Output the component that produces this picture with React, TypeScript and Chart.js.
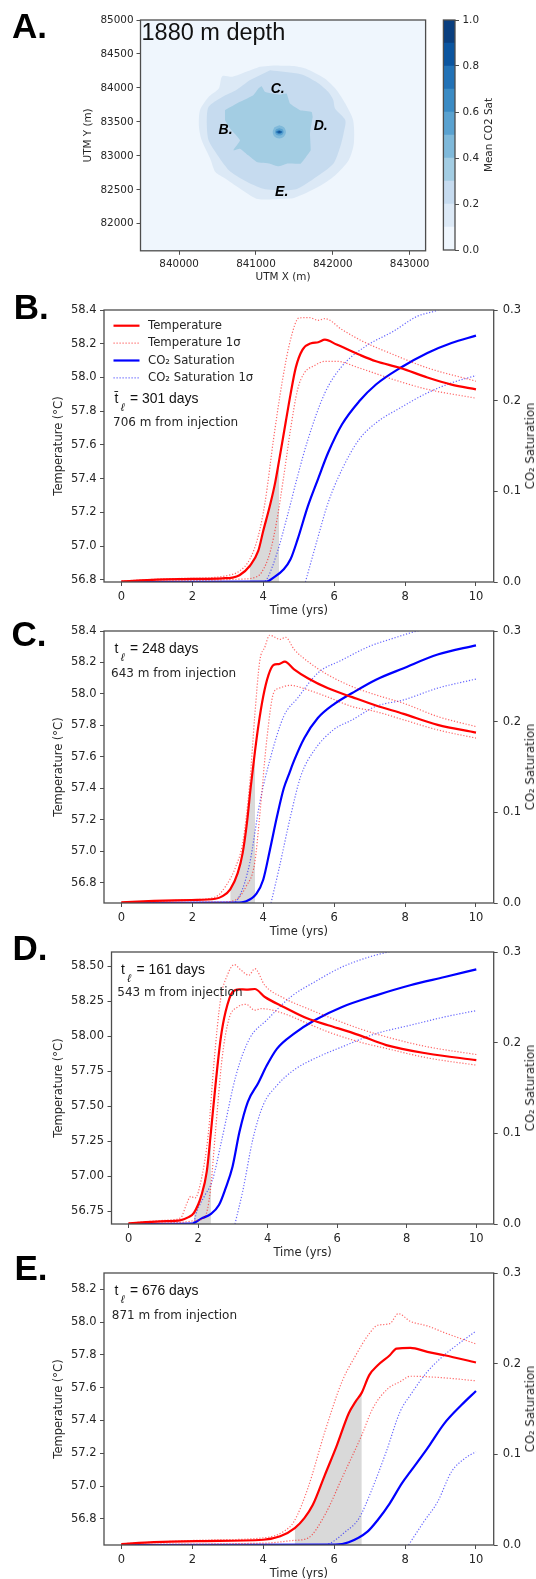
import React, { useEffect, useRef } from 'react';
import Chart from 'chart.js/auto';

type Pair = [number, number];

const FONT = '"DejaVu Sans", sans-serif';
const INK = '#262626';
const SPINE = '#4d4d4d';

// map panel (A)
const mapXTicks = [840000, 841000, 842000, 843000];
const mapYTicks = [82000, 82500, 83000, 83500, 84000, 84500, 85000];
const levelTicks = [0, 0.2, 0.4, 0.6, 0.8, 1];
const levelColors = ['#eff6fd', '#dce9f6', '#c6dbef', '#a3cde3', '#7fb9da', '#5aa2d0', '#3b8bc4', '#2272b6', '#0b559f', '#0a3f7f'];
const levelWidth = [0.1, 0.1, 0.1, 0.1, 0.1, 0.1, 0.1, 0.1, 0.1, 0.1];

const contour01: Pair[] = [
  [841228, 84331], [841495, 84321], [841673, 84272], [841896, 84139], [842051, 83967], [842163, 83770],
  [842265, 83524], [842274, 83180], [842207, 82934], [842029, 82712], [841807, 82540], [841495, 82378],
  [841362, 82368], [841028, 82363], [840828, 82491], [840605, 82663], [840472, 82761], [840405, 82958],
  [840294, 83229], [840258, 83426], [840271, 83672], [840383, 83868], [840516, 83991], [840561, 84173],
  [840694, 84164], [840872, 84237], [841050, 84311],
];
const contour02: Pair[] = [
  [841184, 84262], [841584, 84203], [841784, 84090], [841940, 83942], [842007, 83819], [842029, 83696],
  [842163, 83524], [842140, 83327], [842096, 83130], [842007, 82884], [841784, 82688], [841540, 82515],
  [841362, 82491], [841095, 82515], [840850, 82638], [840650, 82786], [840516, 82983], [840383, 83229],
  [840360, 83475], [840383, 83721], [840561, 83868], [840739, 83967], [840917, 84114],
];
const contour03: Pair[] = [
  [840597, 83672], [840792, 83795], [840966, 83893], [841031, 83992], [841074, 84026], [841117, 83943],
  [841204, 83918], [841313, 83903], [841399, 83918], [841443, 83770], [841573, 83672], [841725, 83647],
  [841738, 83574], [841703, 83328], [841712, 83082], [841651, 82983], [841582, 82885], [841399, 82885],
  [841291, 82845], [841183, 82885], [841009, 82909], [840900, 83008], [840792, 83106], [840705, 83082],
  [840792, 83229], [840662, 83401], [840597, 83524],
];
const contour04: Pair[] = [
  [841304, 83450], [841365, 83420], [841390, 83352], [841365, 83285], [841304, 83255], [841240, 83285], [841218, 83352], [841240, 83420],
];
const contour05: Pair[] = [
  [841304, 83405], [841345, 83390], [841360, 83352], [841345, 83315], [841304, 83300], [841262, 83315], [841248, 83352], [841262, 83390],
];
const contour07: Pair[] = [[841304, 83378], [841335, 83365], [841345, 83352], [841335, 83338], [841304, 83326], [841272, 83338], [841262, 83352], [841272, 83365]];
const contour09: Pair[] = [[841304, 83362], [841325, 83352], [841304, 83342], [841283, 83352]];

const wellNames = ['B.', 'C.', 'D.', 'E.'];
const wellX = [840605, 841282, 841842, 841335];
const wellY = [83376, 83986, 83440, 82471];

// time series panels
const timeTicks = [0, 2, 4, 6, 8, 10];
const satTicks = [0, 0.1, 0.2, 0.3];

const bTempTicks = [56.8, 57, 57.2, 57.4, 57.6, 57.8, 58, 58.2, 58.4];
const bTemp: Pair[] = [[0, 56.792], [1, 56.802], [2, 56.806], [2.85, 56.81], [3.13, 56.814], [3.33, 56.828], [3.62, 56.883], [3.86, 56.972], [4, 57.09], [4.2, 57.25], [4.34, 57.38], [4.45, 57.51], [4.63, 57.73], [4.77, 57.9], [4.92, 58.06], [5.11, 58.165], [5.35, 58.203], [5.55, 58.209], [5.74, 58.224], [6.07, 58.195], [6.7, 58.136], [7.18, 58.096], [7.86, 58.057], [8.63, 58], [9.31, 57.958], [10, 57.93]];
const bTempHi: Pair[] = [[0, 56.794], [1.4, 56.808], [2.36, 56.812], [2.94, 56.824], [3.33, 56.853], [3.62, 56.922], [3.86, 57.06], [4.05, 57.258], [4.29, 57.633], [4.53, 57.968], [4.77, 58.224], [5.01, 58.353], [5.3, 58.355], [5.55, 58.339], [5.74, 58.349], [6.22, 58.284], [6.8, 58.215], [7.67, 58.136], [8.63, 58.057], [10, 57.978]];
const bTempLo: Pair[] = [[0, 56.79], [2.36, 56.798], [3.33, 56.805], [3.71, 56.812], [3.95, 56.844], [4.19, 56.962], [4.39, 57.159], [4.58, 57.416], [4.77, 57.692], [4.97, 57.929], [5.16, 58.027], [5.45, 58.071], [5.74, 58.096], [6.07, 58.096], [6.7, 58.057], [7.67, 57.988], [8.63, 57.93], [10, 57.877]];
const bSat: Pair[] = [[0, 0], [4.1, 0.0004], [4.29, 0.0048], [4.58, 0.014], [4.77, 0.025], [4.97, 0.047], [5.26, 0.0837], [5.54, 0.113], [5.83, 0.1425], [6.22, 0.1737], [6.7, 0.199], [7.18, 0.2178], [7.86, 0.236], [8.63, 0.2526], [9.31, 0.2636], [10, 0.2717]];
const bSatHi: Pair[] = [[0, 0], [4, 0], [4.1, 0.003], [4.39, 0.032], [4.68, 0.0727], [4.97, 0.1168], [5.26, 0.157], [5.74, 0.2086], [6.22, 0.238], [6.89, 0.26], [7.67, 0.2765], [8.34, 0.293], [8.92, 0.3], [9.1, 0.304]];
const bSatLo: Pair[] = [[5.19, 0], [5.5, 0.0433], [5.83, 0.0874], [6.22, 0.124], [6.7, 0.157], [7.18, 0.1755], [7.86, 0.192], [8.63, 0.2086], [9.31, 0.2196], [10, 0.2277]];

const cTempTicks = [56.8, 57, 57.2, 57.4, 57.6, 57.8, 58, 58.2, 58.4];
const cTemp: Pair[] = [[0, 56.677], [0.92, 56.686], [1.98, 56.692], [2.65, 56.7], [2.84, 56.715], [3.07, 56.76], [3.28, 56.863], [3.42, 56.99], [3.54, 57.18], [3.65, 57.413], [3.77, 57.64], [3.86, 57.793], [4, 57.984], [4.15, 58.121], [4.29, 58.184], [4.44, 58.19], [4.61, 58.206], [4.87, 58.157], [5.26, 58.1], [5.83, 58.036], [6.51, 57.98], [7.18, 57.927], [7.96, 57.874], [8.92, 57.804], [10, 57.755]];
const cTempHi: Pair[] = [[0, 56.677], [1.98, 56.694], [2.65, 56.711], [2.94, 56.779], [3.23, 56.906], [3.42, 57.054], [3.62, 57.434], [3.76, 57.857], [3.9, 58.206], [4.05, 58.3], [4.18, 58.373], [4.48, 58.347], [4.63, 58.36], [4.87, 58.284], [5.26, 58.206], [5.83, 58.121], [6.51, 58.047], [7.18, 57.994], [7.96, 57.941], [8.92, 57.857], [10, 57.793]];
const cTempLo: Pair[] = [[0, 56.677], [2.84, 56.679], [3.23, 56.694], [3.52, 56.779], [3.76, 56.927], [3.9, 57.223], [4.1, 57.709], [4.29, 58.005], [4.44, 58.036], [4.77, 58.055], [5.26, 58.026], [5.83, 57.98], [6.51, 57.92], [7.18, 57.888], [7.96, 57.836], [8.92, 57.772], [10, 57.72]];
const cSat: Pair[] = [[0, 0], [3.23, 0.0004], [3.52, 0.002], [3.81, 0.0103], [4, 0.0257], [4.19, 0.0588], [4.39, 0.0956], [4.58, 0.1265], [4.73, 0.1425], [4.87, 0.157], [5.16, 0.182], [5.54, 0.204], [5.98, 0.2188], [6.51, 0.2316], [7.18, 0.2463], [7.96, 0.259], [8.92, 0.274], [10, 0.2842]];
const cSatHi: Pair[] = [[0, 0], [3.13, 0], [3.33, 0.0074], [3.62, 0.044], [3.9, 0.11], [4.19, 0.158], [4.58, 0.206], [4.97, 0.226], [5.54, 0.2537], [6.22, 0.268], [6.99, 0.283], [7.67, 0.292], [8.34, 0.3], [8.73, 0.303]];
const cSatLo: Pair[] = [[4.22, 0], [4.44, 0.0368], [4.77, 0.0956], [5.06, 0.14], [5.45, 0.169], [5.98, 0.191], [6.51, 0.202], [7.18, 0.217], [7.96, 0.224], [8.92, 0.237], [10, 0.247]];

const dTempTicks = [56.75, 57, 57.25, 57.5, 57.75, 58, 58.25, 58.5];
const dTemp: Pair[] = [[0, 56.665], [0.92, 56.679], [1.51, 56.688], [1.71, 56.707], [1.88, 56.74], [2.1, 56.868], [2.25, 57.035], [2.37, 57.319], [2.5, 57.651], [2.65, 57.983], [2.79, 58.173], [2.99, 58.315], [3.19, 58.334], [3.38, 58.332], [3.63, 58.336], [3.92, 58.279], [4.46, 58.208], [5.15, 58.125], [5.74, 58.078], [6.63, 58.007], [7.41, 57.936], [8.59, 57.876], [10, 57.829]];
const dTempHi: Pair[] = [[0, 56.667], [1.22, 56.69], [1.51, 56.707], [1.66, 56.797], [1.79, 56.857], [1.91, 56.845], [2.1, 56.987], [2.3, 57.319], [2.45, 57.793], [2.65, 58.268], [2.84, 58.434], [3.04, 58.51], [3.24, 58.469], [3.46, 58.434], [3.63, 58.481], [3.92, 58.362], [4.46, 58.272], [5.15, 58.196], [5.74, 58.137], [6.63, 58.054], [7.41, 57.995], [8.59, 57.924], [10, 57.869]];
const dTempLo: Pair[] = [[0, 56.662], [1.51, 56.672], [1.91, 56.684], [2.2, 56.714], [2.35, 56.892], [2.5, 57.319], [2.69, 57.841], [2.89, 58.125], [3.14, 58.208], [3.38, 58.227], [3.63, 58.185], [3.82, 58.196], [4.46, 58.161], [5.15, 58.09], [5.74, 58.03], [6.63, 57.959], [7.41, 57.912], [8.59, 57.845], [10, 57.793]];
const dSat: Pair[] = [[0, 0], [1.81, 0.0004], [2.1, 0.0062], [2.35, 0.0106], [2.6, 0.0209], [2.79, 0.0393], [2.99, 0.0632], [3.19, 0.1017], [3.43, 0.1348], [3.73, 0.1555], [3.97, 0.1745], [4.27, 0.1935], [4.76, 0.21], [5.35, 0.2247], [6.14, 0.2394], [7.12, 0.2522], [8.1, 0.2633], [9.09, 0.2724], [10, 0.2809]];
const dSatHi: Pair[] = [[0, 0], [1.86, 0.0007], [1.96, 0.0136], [2.2, 0.032], [2.4, 0.0466], [2.69, 0.0944], [3.09, 0.164], [3.48, 0.2045], [3.97, 0.2247], [4.66, 0.2504], [5.35, 0.267], [6.14, 0.2835], [6.92, 0.2945], [7.46, 0.3], [7.9, 0.304]];
const dSatLo: Pair[] = [[3.06, 0], [3.28, 0.0356], [3.58, 0.0944], [3.87, 0.131], [4.27, 0.153], [4.76, 0.17], [5.35, 0.1825], [6.14, 0.1954], [7.12, 0.21], [8.1, 0.2192], [9.09, 0.2284], [10, 0.2354]];

const eTempTicks = [56.8, 57, 57.2, 57.4, 57.6, 57.8, 58, 58.2];
const eTemp: Pair[] = [[0, 56.646], [0.92, 56.658], [2.36, 56.664], [4, 56.672], [4.48, 56.693], [4.89, 56.743], [5.16, 56.804], [5.4, 56.885], [5.74, 57.068], [6.08, 57.25], [6.41, 57.443], [6.6, 57.514], [6.78, 57.57], [6.99, 57.677], [7.23, 57.737], [7.57, 57.798], [7.76, 57.839], [8.15, 57.843], [8.63, 57.819], [9.11, 57.798], [10, 57.754]];
const eTempHi: Pair[] = [[0, 56.648], [2.36, 56.67], [4.1, 56.686], [4.58, 56.723], [4.87, 56.784], [5.26, 56.987], [5.74, 57.332], [6.22, 57.636], [6.61, 57.798], [6.99, 57.93], [7.23, 57.981], [7.57, 57.991], [7.81, 58.052], [8.15, 58.005], [8.63, 57.977], [9.11, 57.936], [10, 57.867]];
const eTempLo: Pair[] = [[0, 56.644], [4.1, 56.652], [4.87, 56.668], [5.26, 56.682], [5.74, 56.824], [6.22, 57.048], [6.78, 57.311], [7.09, 57.474], [7.52, 57.595], [7.86, 57.636], [8.15, 57.67], [9.11, 57.66], [10, 57.642]];
const eSat: Pair[] = [[0, 0], [6.03, 0.0004], [6.41, 0.003], [6.94, 0.0147], [7.23, 0.0276], [7.57, 0.046], [7.91, 0.068], [8.15, 0.0809], [8.63, 0.1066], [9.11, 0.1342], [9.59, 0.1544], [10, 0.1699]];
const eSatHi: Pair[] = [[0, 0], [5.74, 0.0004], [6.32, 0.0147], [6.7, 0.0294], [7.04, 0.0588], [7.47, 0.103], [7.86, 0.147], [8.15, 0.1654], [8.63, 0.1912], [9.11, 0.2096], [9.59, 0.2243], [10, 0.236]];
const eSatLo: Pair[] = [[8.1, 0], [8.53, 0.0257], [8.92, 0.0478], [9.31, 0.0809], [9.69, 0.0956], [10, 0.1029]];

const panels = [
  {
    letter: 'B.', letterX: 13.7, letterY: 307, left: 104, top: 310, height: 272.7, yMin: 56.788, yMax: 58.4, decimals: 1,
    ticks: bTempTicks, temp: bTemp, tempHi: bTempHi, tempLo: bTempLo, sat: bSat, satHi: bSatHi, satLo: bSatLo,
    shadeFrom: 3.62, shadeTo: 4.45, legend: true, tbar: true, days: '= 301 days', dist: '706 m from injection',
    noteX: 114.5, noteY: 398, distX: 113, distY: 422,
  },
  {
    letter: 'C.', letterX: 11.6, letterY: 634, left: 104, top: 631, height: 272.3, yMin: 56.673, yMax: 58.4, decimals: 1,
    ticks: cTempTicks, temp: cTemp, tempHi: cTempHi, tempLo: cTempLo, sat: cSat, satHi: cSatHi, satLo: cSatLo,
    shadeFrom: 3.07, shadeTo: 3.77, legend: false, tbar: false, days: '= 248 days', dist: '643 m from injection',
    noteX: 114.5, noteY: 648, distX: 111, distY: 673,
  },
  {
    letter: 'D.', letterX: 12.5, letterY: 948, left: 111.5, top: 951.7, height: 272.3, yMin: 56.66, yMax: 58.6, decimals: 2,
    ticks: dTempTicks, temp: dTemp, tempHi: dTempHi, tempLo: dTempLo, sat: dSat, satHi: dSatHi, satLo: dSatLo,
    shadeFrom: 1.88, shadeTo: 2.37, legend: false, tbar: false, days: '= 161 days', dist: '543 m from injection',
    noteX: 121, noteY: 968.7, distX: 117.3, distY: 991.7,
  },
  {
    letter: 'E.', letterX: 14.5, letterY: 1268, left: 104, top: 1272.7, height: 272.3, yMin: 56.64, yMax: 58.3, decimals: 1,
    ticks: eTempTicks, temp: eTemp, tempHi: eTempHi, tempLo: eTempLo, sat: eSat, satHi: eSatHi, satLo: eSatLo,
    shadeFrom: 4.89, shadeTo: 6.78, legend: false, tbar: false, days: '= 676 days', dist: '871 m from injection',
    noteX: 114.5, noteY: 1289.7, distX: 111.8, distY: 1314.7,
  },
];

const xy = (pts: Pair[]) => pts.map(([x, y]) => ({ x, y }));

// scale with a fixed box size, so the plot rectangle lands where the reference has it
const axis = (pos: string, min: number, max: number, values: number[], decimals: number, size: number, font: number, pad: number, title?: string): any => ({
  type: 'linear',
  position: pos,
  min,
  max,
  afterBuildTicks: (s: any) => {
    s.ticks = values.map((value) => ({ value }));
  },
  afterFit: (s: any) => {
    if (pos === 'bottom') s.height = size;
    else s.width = size;
  },
  border: { display: false },
  grid: { drawOnChartArea: false, tickLength: 4, tickColor: SPINE, tickWidth: 1 },
  ticks: {
    autoSkip: false,
    maxRotation: 0,
    padding: pad,
    color: INK,
    font: { family: FONT, size: font },
    callback: (v: any) => Number(v).toFixed(decimals),
  },
  title: title ? { display: true, text: title, color: INK, font: { family: FONT, size: font } } : { display: false },
});

const framePlugin = (fill?: string) => ({
  id: 'frame',
  beforeDatasetsDraw(chart: any) {
    if (!fill) return;
    const { left, top, width, height } = chart.chartArea;
    chart.ctx.fillStyle = fill;
    chart.ctx.fillRect(left, top, width, height);
  },
  afterDraw(chart: any) {
    const { left, top, width, height } = chart.chartArea;
    const ctx = chart.ctx;
    ctx.save();
    ctx.strokeStyle = SPINE;
    ctx.lineWidth = 1.3;
    ctx.strokeRect(left, top, width, height);
    ctx.restore();
  },
});

const legendPlugin = {
  id: 'lineLegend',
  afterDraw(chart: any) {
    const { left, top } = chart.chartArea;
    const ctx = chart.ctx;
    ctx.save();
    ctx.textBaseline = 'middle';
    ctx.font = `11.7px ${FONT}`;
    chart.data.datasets
      .filter((d: any) => d.label)
      .forEach((d: any, i: number) => {
        const y = top + 15.7 + i * 17.4;
        ctx.strokeStyle = d.borderColor;
        ctx.lineWidth = d.borderWidth;
        ctx.setLineDash(d.borderDash || []);
        ctx.beginPath();
        ctx.moveTo(left + 9.5, y);
        ctx.lineTo(left + 35.5, y);
        ctx.stroke();
        ctx.fillStyle = INK;
        ctx.fillText(d.label, left + 44, y);
      });
    ctx.restore();
  },
};

const wellPlugin = {
  id: 'wellLabels',
  afterDatasetsDraw(chart: any) {
    const ctx = chart.ctx;
    ctx.save();
    ctx.fillStyle = '#000';
    ctx.font = 'italic bold 14px "Liberation Sans", sans-serif';
    ctx.textAlign = 'center';
    ctx.textBaseline = 'middle';
    wellNames.forEach((name, i) => {
      ctx.fillText(name, chart.scales.x.getPixelForValue(wellX[i]), chart.scales.y.getPixelForValue(wellY[i]));
    });
    ctx.restore();
  },
};

const curve = (label: string | undefined, pts: Pair[], color: string, width: number, dash: number[], yAxisID: string) => ({
  label,
  data: xy(pts),
  borderColor: color,
  borderWidth: width,
  borderDash: dash,
  yAxisID,
  showLine: true,
  fill: false,
  pointRadius: 0,
  cubicInterpolationMode: 'monotone',
});

const SeriesChart: React.FC<{ p: (typeof panels)[number] }> = ({ p }) => {
  const ref = useRef<HTMLCanvasElement | null>(null);

  useEffect(() => {
    if (!ref.current) return;
    const red = '#ff0000';
    const blue = '#0000ff';
    const redDot = 'rgba(255,0,0,0.6)';
    const blueDot = 'rgba(0,0,255,0.6)';
    const dot = [1.2, 1.8];
    const shade = p.temp.filter(([t]) => t >= p.shadeFrom && t <= p.shadeTo);
    const leftBox = p.left - 48;
    const chart = new Chart(ref.current, {
      type: 'scatter',
      data: {
        datasets: [
          curve('Temperature', p.temp, red, 2.2, [], 'y'),
          curve('Temperature 1σ', p.tempHi, redDot, 1.2, dot, 'y'),
          curve(undefined, p.tempLo, redDot, 1.2, dot, 'y'),
          curve('CO₂ Saturation', p.sat, blue, 2.2, [], 'sat'),
          curve('CO₂ Saturation 1σ', p.satHi, blueDot, 1.2, dot, 'sat'),
          curve(undefined, p.satLo, blueDot, 1.2, dot, 'sat'),
          {
            ...curve(undefined, shade, '#d9d9d9', 0, [], 'y'),
            backgroundColor: '#d9d9d9',
            fill: 'start',
          },
        ] as any,
      },
      options: {
        animation: false,
        responsive: false,
        layout: { padding: { left: 48, top: 12, right: 536 - 493.7 - 30, bottom: 0 } },
        plugins: { legend: { display: false }, tooltip: { enabled: false } },
        scales: {
          x: axis('bottom', -0.49, 10.5, timeTicks, 0, 40, 11.5, 4, 'Time (yrs)'),
          y: axis('left', p.yMin, p.yMax, p.ticks, p.decimals, leftBox, 11.5, 3.5, 'Temperature (°C)'),
          sat: axis('right', 0, 0.3, satTicks, 1, 30, 11.5, 5),
        },
      },
      plugins: p.legend ? [framePlugin(), legendPlugin] : [framePlugin()],
    });
    return () => {
      chart.destroy();
    };
  }, [p]);

  return <canvas ref={ref} width={536} height={p.height + 52} style={{ position: 'absolute', left: 0, top: p.top - 12, display: 'block' }} />;
};

const MapChart: React.FC = () => {
  const ref = useRef<HTMLCanvasElement | null>(null);

  useEffect(() => {
    if (!ref.current) return;
    const shape = (pts: Pair[], level: number, tension: number) => ({
      data: xy(pts),
      showLine: true,
      fill: 'shape',
      backgroundColor: levelColors[level],
      borderWidth: 0,
      pointRadius: 0,
      tension,
    });
    const chart = new Chart(ref.current, {
      type: 'scatter',
      data: {
        datasets: [
          shape(contour09, 9, 0.3),
          shape(contour07, 7, 0.3),
          shape(contour05, 5, 0.3),
          shape(contour04, 4, 0.3),
          shape(contour03, 3, 0.1),
          shape(contour02, 2, 0.25),
          shape(contour01, 1, 0.25),
        ] as any,
      },
      options: {
        animation: false,
        responsive: false,
        layout: { padding: { left: 78, top: 12, right: 536 - 425.6, bottom: 0 } },
        plugins: { legend: { display: false }, tooltip: { enabled: false } },
        scales: {
          x: axis('bottom', 839497, 843208, mapXTicks, 0, 37.2, 10.4, 3, 'UTM X (m)'),
          y: axis('left', 81602, 85000, mapYTicks, 0, 62.5, 10.4, 3, 'UTM Y (m)'),
        },
      },
      plugins: [framePlugin(levelColors[0]), wellPlugin],
    });
    return () => {
      chart.destroy();
    };
  }, []);

  return <canvas ref={ref} width={536} height={280} style={{ position: 'absolute', left: 0, top: 8, display: 'block' }} />;
};

const Colorbar: React.FC = () => {
  const ref = useRef<HTMLCanvasElement | null>(null);

  useEffect(() => {
    if (!ref.current) return;
    const chart = new Chart(ref.current, {
      type: 'bar',
      data: {
        labels: ['Mean CO2 Sat'],
        datasets: levelWidth.map((w, i) => ({
          data: [w],
          backgroundColor: levelColors[i],
          borderWidth: 0,
          barPercentage: 1,
          categoryPercentage: 1,
        })),
      },
      options: {
        animation: false,
        responsive: false,
        layout: { padding: { left: 13.4, top: 12, right: 41, bottom: 12 } },
        plugins: { legend: { display: false }, tooltip: { enabled: false } },
        scales: {
          x: { stacked: true, display: false },
          y: { ...axis('right', 0, 1, levelTicks, 1, 40, 10.4, 3.5), stacked: true },
        },
      },
      plugins: [framePlugin()],
    });
    return () => {
      chart.destroy();
    };
  }, []);

  return <canvas ref={ref} width={106} height={254.3} style={{ position: 'absolute', left: 430, top: 8, display: 'block' }} />;
};

const Text: React.FC<{ x: number; y: number; style?: React.CSSProperties; children: React.ReactNode }> = ({ x, y, style, children }) => (
  <div style={{ position: 'absolute', left: x, top: y, transform: 'translateY(-50%)', whiteSpace: 'nowrap', color: '#111', ...style }}>{children}</div>
);

const RightTitle: React.FC<{ x: number; y: number; size: number; text: string }> = ({ x, y, size, text }) => (
  <div style={{ position: 'absolute', left: x, top: y, transform: 'translate(-50%, -50%) rotate(-90deg)', whiteSpace: 'nowrap', color: INK, fontFamily: FONT, fontSize: size }}>{text}</div>
);

const LETTER: React.CSSProperties = { fontFamily: '"Liberation Sans", sans-serif', fontWeight: 700, fontSize: 35, color: '#000' };
const NOTE: React.CSSProperties = { fontFamily: '"Liberation Sans", sans-serif', fontSize: 13.9 };
const DIST: React.CSSProperties = { fontFamily: FONT, fontSize: 12, color: INK };

const App: React.FC = () => (
  <div style={{ position: 'absolute', left: 0, top: 0, width: 536, height: 1579, overflow: 'hidden', background: '#fff' }}>
    <MapChart />
    <Colorbar />
    <Text x={12} y={26} style={LETTER}>A.</Text>
    <Text x={141.5} y={31.5} style={{ fontFamily: '"Liberation Sans", sans-serif', fontSize: 23.5 }}>1880 m depth</Text>
    <RightTitle x={488} y={135} size={10.4} text="Mean CO2 Sat" />
    {panels.map((p) => (
      <React.Fragment key={p.letter}>
        <SeriesChart p={p} />
        <Text x={p.letterX} y={p.letterY} style={LETTER}>{p.letter}</Text>
        <Text x={p.noteX} y={p.noteY} style={NOTE}>{p.tbar ? 't\u0304' : 't'}</Text>
        <Text x={p.noteX + 6.5} y={p.noteY + 9} style={{ ...NOTE, fontSize: 11, fontStyle: 'italic' }}>ℓ</Text>
        <Text x={p.noteX + 15.5} y={p.noteY} style={NOTE}>{p.days}</Text>
        <Text x={p.distX} y={p.distY} style={DIST}>{p.dist}</Text>
        <RightTitle x={530} y={p.top + p.height / 2} size={11.7} text="CO₂ Saturation" />
      </React.Fragment>
    ))}
  </div>
);

export default App;
